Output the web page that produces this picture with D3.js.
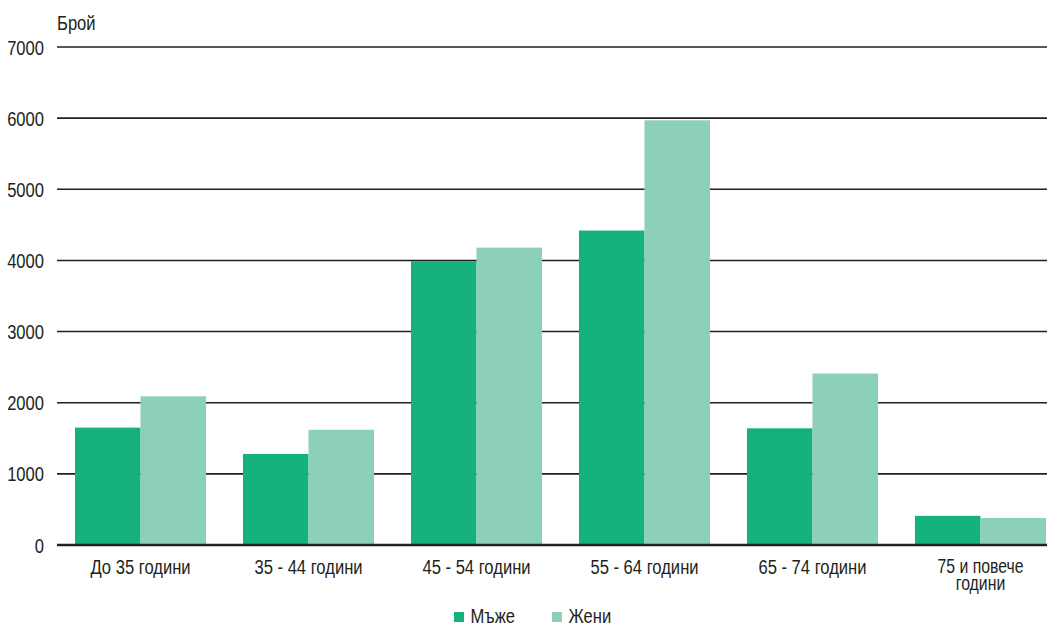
<!DOCTYPE html>
<html><head><meta charset="utf-8">
<script src="https://cdn.jsdelivr.net/npm/d3@7"></script>
<style>
body{margin:0;background:#fff;}
text{font-family:"Liberation Sans",Arial,sans-serif;fill:#231f20;}
</style></head>
<body><svg id="c" width="1059" height="626"></svg>
<script>
const categories = ["До 35 години","35 - 44 години","45 - 54 години","55 - 64 години","65 - 74 години","75 и повече години"];
const seriesNames = ["Мъже","Жени"];
const men = [1650, 1280, 3990, 4420, 1640, 410];
const women = [2090, 1620, 4180, 5970, 2410, 380];
const yTicks = [0,1000,2000,3000,4000,5000,6000,7000];
const colors = ["#14b17a","#8dd0b8"];

(function(){
const svg = d3.select("#c");
const SX = 0.79, FS = 21;
const plotL = 57, plotR = 1047, plotTop = 47, plotBottom = 545;
const y = d3.scaleLinear().domain([0,7000]).range([plotBottom, plotTop]);
const x = d3.scaleBand().domain(categories).range([75,1046]).paddingInner(0.22).paddingOuter(0);
const xs = d3.scaleBand().domain(seriesNames).range([0, x.bandwidth()]);

function label(parent, tx, ty, str, anchor, fs){
  return parent.append("text")
    .attr("transform",`translate(${tx},${ty}) scale(${SX},1)`)
    .attr("text-anchor",anchor||"start").attr("font-size",fs||FS).text(str);
}

svg.append("g").selectAll("line").data(yTicks.filter(d=>d>0)).join("line")
  .attr("x1",plotL).attr("x2",plotR).attr("y1",d=>y(d)).attr("y2",d=>y(d))
  .attr("stroke","#231f20").attr("stroke-width",1.6);

const yg = svg.append("g");
yTicks.forEach(t=>label(yg, 44, y(t)+7.5, t, "end"));

label(svg, 57, 30, "Брой");

const data = categories.map((c,i)=>({c, vals:[men[i], women[i]]}));
const g = svg.append("g").selectAll("g").data(data).join("g")
  .attr("transform",d=>`translate(${x(d.c)},0)`);
g.selectAll("rect").data(d=>d.vals.map((v,j)=>({v,s:seriesNames[j],j}))).join("rect")
  .attr("x",d=>xs(d.s)).attr("width",xs.bandwidth())
  .attr("y",d=>y(d.v)).attr("height",d=>y(0)-y(d.v))
  .attr("fill",d=>colors[d.j]);

svg.append("line").attr("x1",plotL).attr("x2",plotR).attr("y1",y(0)).attr("y2",y(0))
  .attr("stroke","#231f20").attr("stroke-width",2.5);

const xg = svg.append("g");
categories.forEach(c=>{
  const cx = x(c)+x.bandwidth()/2;
  if (c === "75 и повече години") {
    label(xg, cx, 573, "75 и повече", "middle", 20);
    label(xg, cx, 590, "години", "middle", 20);
  } else label(xg, cx, 574, c, "middle");
});

const legX = [454, 552];
const lg = svg.append("g");
seriesNames.forEach((s,i)=>{
  lg.append("rect").attr("x",legX[i]).attr("y",612).attr("width",10).attr("height",10).attr("fill",colors[i]);
  label(lg, legX[i]+16.5, 623, s);
});
})();
</script></body></html>
